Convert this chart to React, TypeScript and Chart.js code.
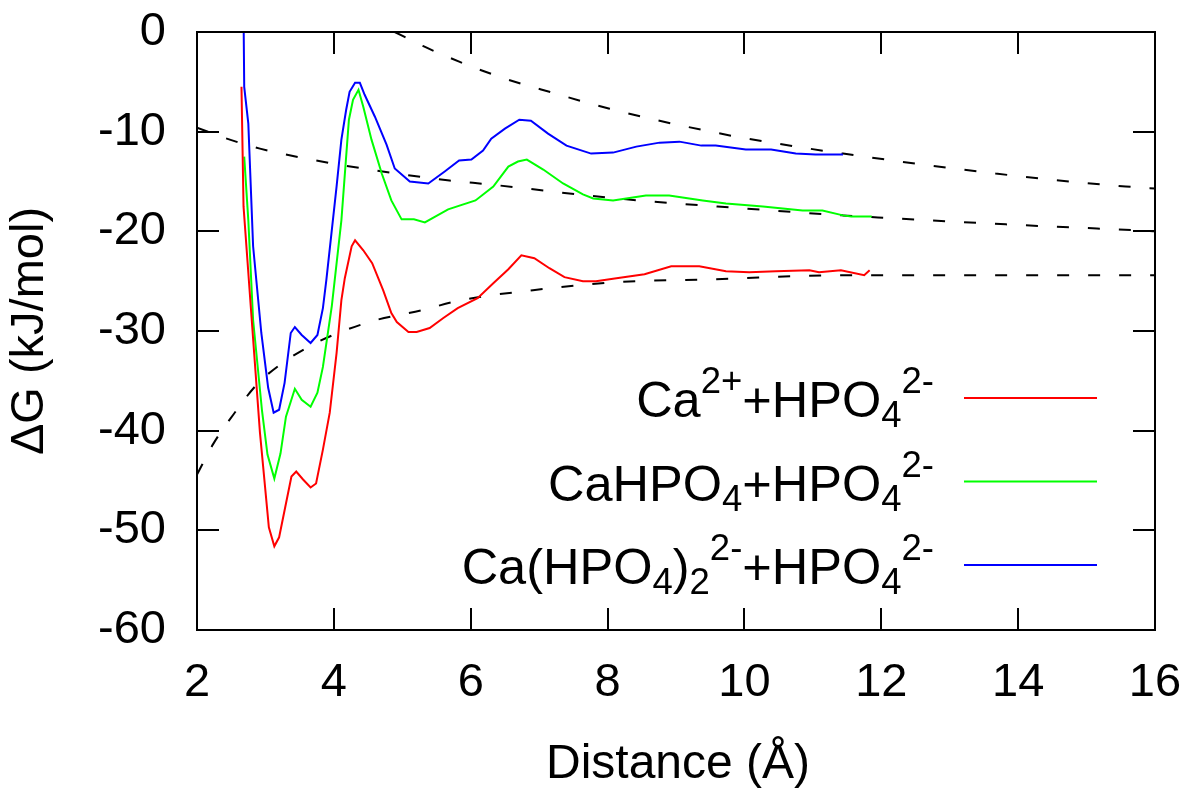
import { useEffect, useRef } from "react";
import { Chart, registerables } from "chart.js";

Chart.register(...registerables);

// ---- Data ----
const redX = [2.65, 2.68, 2.80, 2.92, 3.05, 3.13, 3.20, 3.38, 3.45, 3.55, 3.66, 3.74, 3.84, 3.94, 4.04, 4.11, 4.16, 4.26, 4.31, 4.43, 4.56, 4.72, 4.84, 4.92, 5.09, 5.21, 5.40, 5.60, 5.81, 6.10, 6.33, 6.55, 6.74, 6.93, 7.15, 7.37, 7.64, 7.83, 8.13, 8.54, 8.93, 9.34, 9.73, 10.07, 10.46, 10.95, 11.09, 11.41, 11.75, 11.83];
const redY = [-5.5, -17.5, -28.9, -40.2, -49.7, -51.6, -50.7, -44.6, -44.1, -44.9, -45.7, -45.3, -41.9, -38.2, -32.2, -26.9, -24.7, -21.5, -20.9, -21.9, -23.2, -25.9, -28.2, -29.1, -30.1, -30.1, -29.7, -28.7, -27.7, -26.7, -25.2, -23.8, -22.4, -22.7, -23.7, -24.6, -25.0, -25.0, -24.7, -24.3, -23.5, -23.5, -24.0, -24.1, -24.0, -23.9, -24.1, -23.9, -24.4, -23.9];

const greenX = [2.69, 2.75, 2.82, 2.95, 3.03, 3.13, 3.22, 3.30, 3.43, 3.53, 3.66, 3.76, 3.84, 3.97, 4.11, 4.22, 4.28, 4.36, 4.43, 4.55, 4.70, 4.84, 4.99, 5.17, 5.33, 5.67, 6.07, 6.33, 6.55, 6.69, 6.82, 7.06, 7.35, 7.64, 7.79, 8.08, 8.56, 8.90, 9.39, 9.73, 10.27, 10.85, 11.14, 11.44, 11.56, 11.86];
const greenY = [-12.5, -18.9, -28.9, -38.0, -42.4, -44.8, -42.3, -38.6, -35.8, -36.9, -37.6, -36.2, -33.6, -27.5, -18.9, -8.8, -6.8, -5.8, -7.5, -10.8, -14.2, -16.9, -18.8, -18.8, -19.1, -17.8, -16.9, -15.5, -13.5, -13.0, -12.8, -13.8, -15.2, -16.3, -16.7, -16.9, -16.4, -16.4, -16.9, -17.2, -17.5, -17.9, -17.9, -18.4, -18.5, -18.5];

const blueX = [2.68, 2.69, 2.75, 2.82, 2.94, 3.04, 3.12, 3.20, 3.28, 3.37, 3.43, 3.53, 3.66, 3.76, 3.84, 3.89, 4.04, 4.11, 4.18, 4.23, 4.31, 4.38, 4.45, 4.60, 4.77, 4.89, 5.11, 5.38, 5.62, 5.83, 6.01, 6.18, 6.30, 6.50, 6.71, 6.88, 7.13, 7.40, 7.76, 8.08, 8.42, 8.76, 9.05, 9.37, 9.58, 10.02, 10.39, 10.75, 11.04, 11.44];
const blueY = [2.0, -5.5, -9.2, -21.5, -30.2, -35.7, -38.2, -37.9, -35.2, -30.2, -29.6, -30.4, -31.2, -30.4, -27.7, -24.9, -15.5, -10.8, -7.8, -6.0, -5.1, -5.1, -6.3, -8.5, -11.3, -13.7, -15.0, -15.2, -14.0, -12.9, -12.8, -11.9, -10.7, -9.7, -8.8, -8.9, -10.2, -11.4, -12.2, -12.1, -11.5, -11.1, -11.0, -11.4, -11.4, -11.8, -11.8, -12.2, -12.3, -12.3];

// dashed reference curves
const dashTopX = [4.89, 5.30, 5.84, 6.30, 6.74, 7.20, 7.60, 8.03, 8.50, 8.95, 9.44, 9.88, 10.40, 10.85, 11.44, 12.50, 13.67, 14.60, 15.57, 16.0];
const dashTopY = [0.0, -1.4, -3.0, -4.2, -5.2, -6.1, -6.9, -7.7, -8.5, -9.2, -9.9, -10.5, -11.1, -11.6, -12.2, -13.2, -14.2, -14.9, -15.5, -15.7];

const dashMidX = [2.0, 2.48, 2.92, 3.99, 4.92, 5.69, 6.28, 8.13, 9.98, 11.44, 11.95, 13.82, 15.72, 16.0];
const dashMidY = [-9.6, -10.8, -11.7, -13.2, -14.2, -14.9, -15.3, -16.7, -17.7, -18.4, -18.6, -19.3, -19.9, -20.0];

const dashLowX = [2.0, 2.24, 2.53, 2.87, 3.21, 3.60, 3.99, 4.62, 5.30, 5.79, 6.91, 8.13, 9.58, 11.44, 13.0, 16.0];
const dashLowY = [-44.4, -41.3, -38.4, -35.4, -33.4, -31.7, -30.4, -28.9, -27.9, -27.0, -25.9, -25.1, -24.8, -24.4, -24.4, -24.4];

const xTickValues = [2, 4, 6, 8, 10, 12, 14, 16];
const yTickValues = [0, -10, -20, -30, -40, -50, -60];
const xTitle = "Distance (Å)";
const yTitle = "ΔG (kJ/mol)";

type Seg = { t: string; k: "n" | "sub" | "sup" };
const legendItems: { color: string; segs: Seg[] }[] = [
  {
    color: "#ff0000",
    segs: [
      { t: "Ca", k: "n" }, { t: "2+", k: "sup" }, { t: "+HPO", k: "n" }, { t: "4", k: "sub" }, { t: "2-", k: "sup" },
    ],
  },
  {
    color: "#00ff00",
    segs: [
      { t: "CaHPO", k: "n" }, { t: "4", k: "sub" }, { t: "+HPO", k: "n" }, { t: "4", k: "sub" }, { t: "2-", k: "sup" },
    ],
  },
  {
    color: "#0000ff",
    segs: [
      { t: "Ca(HPO", k: "n" }, { t: "4", k: "sub" }, { t: ")", k: "n" }, { t: "2", k: "sub" }, { t: "2-", k: "sup" },
      { t: "+HPO", k: "n" }, { t: "4", k: "sub" }, { t: "2-", k: "sup" },
    ],
  },
];

const FONT = '"Liberation Sans", Arial, Helvetica, sans-serif';
const TICKF = 47;
const TITLEF = 48;
const MAIN = 50.5;
const SMALL = 36.5;

const pts = (xs: number[], ys: number[]) => xs.map((x, i) => ({ x, y: ys[i] }));

const decorPlugin = {
  id: "decor",
  afterDatasetsDraw(chart: any) {
    const { ctx, chartArea: a, scales } = chart;
    const xs = scales.x;
    const ys = scales.y;
    ctx.save();
    ctx.strokeStyle = "#000";
    ctx.lineWidth = 2;
    ctx.setLineDash([]);
    ctx.strokeRect(a.left, a.top, a.right - a.left, a.bottom - a.top);
    const TL = 22;
    ctx.beginPath();
    xTickValues.forEach((v) => {
      const px = Math.round(xs.getPixelForValue(v));
      ctx.moveTo(px, a.bottom);
      ctx.lineTo(px, a.bottom - TL);
      ctx.moveTo(px, a.top);
      ctx.lineTo(px, a.top + TL);
    });
    yTickValues.forEach((v) => {
      const py = Math.round(ys.getPixelForValue(v));
      ctx.moveTo(a.left, py);
      ctx.lineTo(a.left + TL, py);
      ctx.moveTo(a.right, py);
      ctx.lineTo(a.right - TL, py);
    });
    ctx.stroke();

    ctx.fillStyle = "#000";
    ctx.font = `${TICKF}px ${FONT}`;
    ctx.textBaseline = "middle";
    ctx.textAlign = "right";
    yTickValues.forEach((v) => {
      ctx.fillText(String(v), a.left - 31, ys.getPixelForValue(v));
    });
    ctx.textAlign = "center";
    xTickValues.forEach((v) => {
      ctx.fillText(String(v), xs.getPixelForValue(v), a.bottom + 53);
    });
    ctx.font = `${TITLEF}px ${FONT}`;
    ctx.fillText(xTitle, (a.left + a.right) / 2 + 2, a.bottom + 135);
    ctx.save();
    ctx.font = `${TICKF}px ${FONT}`;
    ctx.translate(30, 331);
    ctx.rotate(-Math.PI / 2);
    ctx.fillText(yTitle, 0, 0);
    ctx.restore();

    // legend
    const rightEdge = 934;
    const lineY0 = 398;
    const rowGap = 83.5;
    ctx.textAlign = "left";
    ctx.textBaseline = "alphabetic";
    legendItems.forEach((it, i) => {
      const ly = lineY0 + i * rowGap;
      const base = ly + 19;
      let total = 0;
      const widths = it.segs.map((s) => {
        ctx.font = `${s.k === "n" ? MAIN : SMALL}px ${FONT}`;
        const w = ctx.measureText(s.t).width;
        total += w;
        return w;
      });
      let x = rightEdge - total;
      it.segs.forEach((s, j) => {
        ctx.font = `${s.k === "n" ? MAIN : SMALL}px ${FONT}`;
        const dy = s.k === "sup" ? -24 : s.k === "sub" ? 10 : 0;
        ctx.fillText(s.t, x, base + dy);
        x += widths[j];
      });
      ctx.strokeStyle = it.color;
      ctx.lineWidth = 2;
      ctx.beginPath();
      ctx.moveTo(964, ly);
      ctx.lineTo(1097, ly);
      ctx.stroke();
    });
    ctx.restore();
  },
};

export default function App() {
  const ref = useRef<HTMLCanvasElement | null>(null);
  useEffect(() => {
    document.body.style.margin = "0";
    const canvas = ref.current;
    if (!canvas) return;
    const solid = (label: string, data: any, color: string) => ({
      label,
      data,
      borderColor: color,
      backgroundColor: color,
      borderWidth: 2,
      pointRadius: 0,
      tension: 0,
      fill: false,
    });
    const dashed = (label: string, data: any) => ({
      label,
      data,
      borderColor: "#000",
      backgroundColor: "#000",
      borderWidth: 2,
      borderDash: [12, 19],
      pointRadius: 0,
      cubicInterpolationMode: "monotone" as const,
      fill: false,
    });
    const chart = new Chart(canvas, {
      type: "line",
      data: {
        datasets: [
          solid("Ca2+ + HPO4 2-", pts(redX, redY), "#ff0000"),
          solid("CaHPO4 + HPO4 2-", pts(greenX, greenY), "#00ff00"),
          solid("Ca(HPO4)2 2- + HPO4 2-", pts(blueX, blueY), "#0000ff"),
          dashed("fit 1", pts(dashTopX, dashTopY)),
          dashed("fit 2", pts(dashMidX, dashMidY)),
          dashed("fit 3", pts(dashLowX, dashLowY)),
        ],
      },
      options: {
        responsive: false,
        animation: false,
        devicePixelRatio: 1,
        layout: { padding: { left: 197, right: 34, top: 32, bottom: 164 } },
        scales: {
          x: { type: "linear", min: 2, max: 16, display: false },
          y: { type: "linear", min: -60, max: 0, display: false },
        },
        plugins: {
          legend: { display: false },
          tooltip: { enabled: false },
        },
      },
      plugins: [decorPlugin],
    });
    return () => chart.destroy();
  }, []);
  return (
    <div style={{ position: "fixed", left: 0, top: 0, width: 1189, height: 794, background: "#fff" }}>
      <canvas ref={ref} width={1189} height={794} style={{ width: 1189, height: 794, display: "block" }} />
    </div>
  );
}
